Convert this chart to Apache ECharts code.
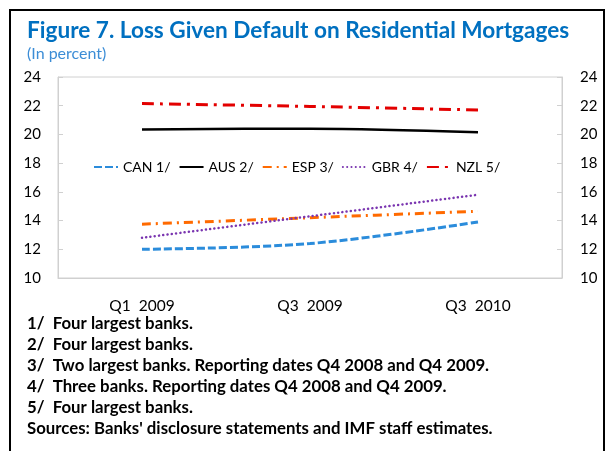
<!DOCTYPE html>
<html>
<head>
<meta charset="utf-8">
<script src="https://cdn.jsdelivr.net/npm/echarts@6/dist/echarts.min.js"></script>
<style>
    html, body { margin: 0; padding: 0; background: #fff; }
    #chart { width: 608px; height: 451px; }
</style>
</head>
<body>
<div id="chart"></div>
<script>
    // data
    var categories = ['Q1  2009', 'Q3  2009', 'Q3  2010'];
    var seriesNames = ['CAN 1/', 'AUS 2/', 'ESP 3/', 'GBR 4/', 'NZL 5/'];
    var canValues = [12.0, 12.4, 13.9];
    var ausValues = [20.35, 20.4, 20.15];
    var espValues = [13.75, 14.2, 14.65];
    var gbrValues = [12.8, 14.3, 15.8];
    var nzlValues = [22.15, 21.95, 21.7];
    var footnotes = [
        '1/  Four largest banks.',
        '2/  Four largest banks.',
        '3/  Two largest banks. Reporting dates Q4 2008 and Q4 2009.',
        '4/  Three banks. Reporting dates Q4 2008 and Q4 2009.',
        '5/  Four largest banks.',
        'Sources: Banks\' disclosure statements and IMF staff estimates.'
    ];

    var FONT = 'Lato, "Open Sans", sans-serif';
    var chart = echarts.init(document.getElementById('chart'));

    // footnote lines under the plot
    var notes = footnotes.map(function (t, i) {
        return {
            type: 'text',
            left: 27,
            top: 315 + i * 21,
            style: { text: t, font: 'bold 16.8px ' + FONT, fill: '#000' }
        };
    });

    function lineSeries(name, data, color, width, type, cap) {
        return {
            name: name,
            type: 'line',
            data: data,
            smooth: 0.35,
            symbol: 'none',
            lineStyle: { color: color, width: width, type: type, cap: cap || 'butt' },
            itemStyle: { color: color }
        };
    }

    var axisGray = '#d0d0d0';

    var option = {
        animation: false,
        backgroundColor: '#fff',
        textStyle: { fontFamily: FONT },
        graphic: [
            // outer frame
            {
                type: 'rect',
                shape: { x: 10, y: 10, width: 594, height: 460 },
                style: { fill: 'none', stroke: '#000', lineWidth: 2 }
            },
            {
                type: 'text',
                left: 27,
                top: 19,
                style: { text: 'Figure 7. Loss Given Default on Residential Mortgages', font: 'bold 22.6px ' + FONT, fill: '#0070C0' }
            },
            {
                type: 'text',
                left: 27,
                top: 46,
                style: { text: '(In percent)', font: '16px ' + FONT, fill: '#3C8DD6' }
            }
        ].concat(notes),
        legend: {
            data: seriesNames,
            left: 93,
            top: 160,
            padding: 0,
            itemWidth: 24,
            itemHeight: 10,
            itemGap: 8,
            itemStyle: { opacity: 0 },
            textStyle: { fontSize: 14, color: '#000', fontFamily: FONT }
        },
        grid: {
            left: 58,
            right: 46,
            top: 77,
            bottom: 173,
            show: true,
            borderColor: axisGray,
            borderWidth: 1
        },
        xAxis: {
            type: 'category',
            data: categories,
            boundaryGap: true,
            axisLine: { lineStyle: { color: axisGray } },
            axisTick: { inside: true, length: 5, lineStyle: { color: axisGray } },
            axisLabel: { color: '#000', fontSize: 15.5, margin: 20 }
        },
        yAxis: [
            {
                type: 'value',
                min: 10,
                max: 24,
                interval: 2,
                position: 'left',
                splitLine: { show: false },
                axisLine: { show: true, lineStyle: { color: axisGray } },
                axisTick: { show: true, inside: true, length: 5, lineStyle: { color: axisGray } },
                axisLabel: { color: '#000', fontSize: 15, margin: 17 }
            },
            {
                type: 'value',
                min: 10,
                max: 24,
                interval: 2,
                position: 'right',
                splitLine: { show: false },
                axisLine: { show: true, lineStyle: { color: axisGray } },
                axisTick: { show: true, inside: true, length: 5, lineStyle: { color: axisGray } },
                axisLabel: { color: '#000', fontSize: 15, margin: 18 }
            }
        ],
        series: [
            lineSeries('CAN 1/', canValues, '#2B8CDB', 3, [8, 3]),
            lineSeries('AUS 2/', ausValues, '#000000', 2.5, 'solid'),
            lineSeries('ESP 3/', espValues, '#FF6A00', 3, [9, 5, 2, 5]),
            lineSeries('GBR 4/', gbrValues, '#7A35B0', 2.5, [0.1, 4.2], 'round'),
            lineSeries('NZL 5/', nzlValues, '#E30000', 3, [12, 6, 3, 6])
        ]
    };

    chart.setOption(option);
</script>
</body>
</html>
